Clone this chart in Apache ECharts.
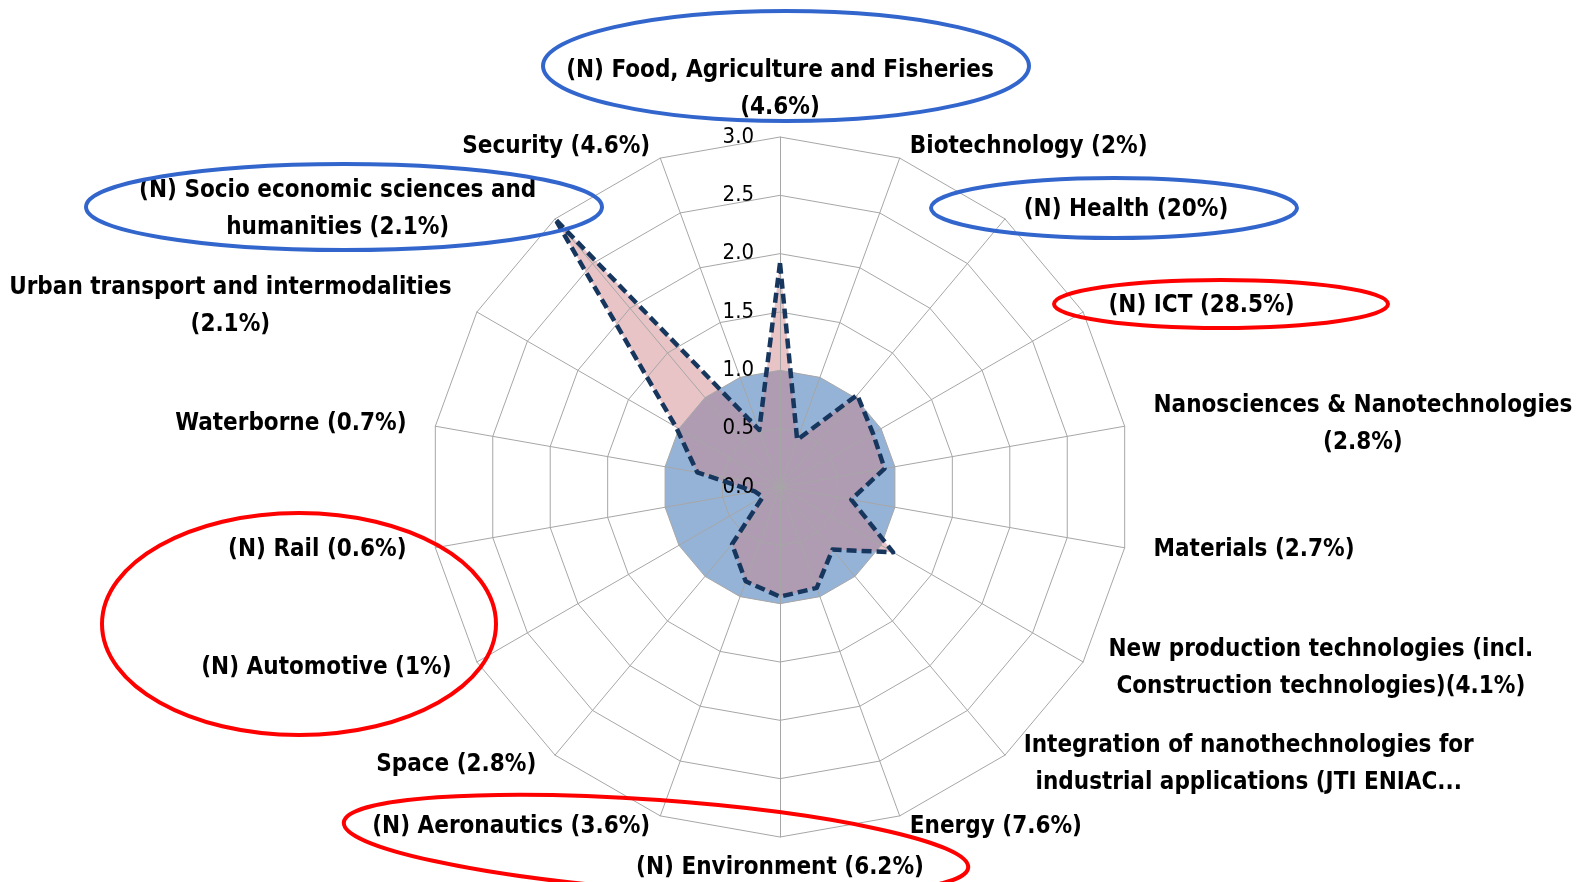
<!DOCTYPE html>
<html>
<head>
<meta charset="utf-8">
<title>Radar - thematic specialisation</title>
<script src="https://cdn.jsdelivr.net/npm/echarts@6/dist/echarts.min.js"></script>
<style>
  html, body { margin: 0; padding: 0; background: #fff; }
  #chart { width: 1584px; height: 882px; }
</style>
</head>
<body>
<div id="chart"></div>
<script>
// categories, clockwise from the top axis
const categories = [
  '(N) Food, Agriculture and Fisheries\n(4.6%)',
  'Biotechnology (2%)',
  '(N) Health (20%)',
  '(N) ICT (28.5%)',
  'Nanosciences & Nanotechnologies\n(2.8%)',
  'Materials (2.7%)',
  'New production technologies (incl.\nConstruction technologies)(4.1%)',
  'Integration of nanothechnologies for\nindustrial applications (JTI ENIAC...',
  'Energy (7.6%)',
  '(N) Environment (6.2%)',
  '(N) Aeronautics (3.6%)',
  'Space (2.8%)',
  '(N) Automotive (1%)',
  '(N) Rail (0.6%)',
  'Waterborne (0.7%)',
  'Urban transport and intermodalities\n(2.1%)',
  '(N) Socio economic sciences and\nhumanities (2.1%)',
  'Security (4.6%)'
]
const referenceValues = [1, 1, 1, 1, 1, 1, 1, 1, 1, 1, 1, 1, 1, 1, 1, 1, 1, 1]
const countryValues = [1.92, 0.43, 1.03, 0.92, 0.91, 0.62, 1.12, 0.70, 0.92,
  0.94, 0.86, 0.64, 0.17, 0.22, 0.72, 1.03, 3.0, 0.52]
const axisMin = 0
const axisMax = 3
const axisSplits = 6

const FONT = '"DejaVu Sans Condensed", "Liberation Sans Narrow", sans-serif'

// echarts lays indicators out counter-clockwise, so walk the lists backwards
const order = categories.map((_, i) => (categories.length - i) % categories.length)
const pick = (arr) => order.map((i) => arr[i])

const indicators = order.map((i, k) => {
  const ang = (i / categories.length) * Math.PI * 2
  const s = Math.sin(ang)
  // labels sit a bit further out sideways than up/down
  const side = Math.round(17 * Math.abs(s))
  const ind = {
    name: categories[i],
    min: axisMin,
    max: axisMax,
    nameGap: i === 0 ? 10 : 12,
    nameTextStyle: { padding: s > 0.01 ? [0, 0, 0, side] : s < -0.01 ? [0, side, 0, 0] : 0 }
  }
  if (k === 0) {
    // only the top axis carries the scale
    ind.axisLabel = {
      show: true,
      color: '#000',
      fontSize: 22,
      fontFamily: FONT,
      margin: 26,
      formatter: (v) => Number(v).toFixed(1)
    }
  }
  return ind
})

const chart = echarts.init(document.getElementById('chart'))

chart.setOption({
  animation: false,
  radar: {
    z: 4,
    center: [780, 487],
    radius: 350,
    startAngle: 90,
    shape: 'polygon',
    splitNumber: axisSplits,
    axisName: {
      color: '#000',
      fontSize: 24,
      fontWeight: 'bold',
      fontFamily: FONT,
      lineHeight: 37,
      formatter: (name) => name.split('\n').map((l) => '{c|' + l + '}').join('\n'),
      rich: {
        c: {
          align: 'center',
          color: '#000',
          fontSize: 24,
          fontWeight: 'bold',
          fontFamily: FONT,
          lineHeight: 37
        }
      }
    },
    axisLine: { lineStyle: { color: '#a6a6a6', width: 1 } },
    splitLine: { lineStyle: { color: '#a6a6a6', width: 1 } },
    splitArea: { show: false },
    axisTick: { show: false },
    axisLabel: { show: false },
    indicator: indicators
  },
  series: [
    {
      type: 'radar',
      symbol: 'none',
      z: 2,
      lineStyle: { width: 0, opacity: 0 },
      areaStyle: { color: 'rgba(79, 129, 189, 0.6)', opacity: 1 },
      data: [{ value: pick(referenceValues), name: 'EU' }]
    },
    {
      type: 'radar',
      symbol: 'none',
      z: 3,
      lineStyle: { width: 0, opacity: 0 },
      areaStyle: { color: 'rgba(206, 130, 135, 0.47)', opacity: 1 },
      data: [{ value: pick(countryValues), name: 'Country' }]
    },
    {
      // outline of the same series, kept above the grid lines
      type: 'radar',
      symbol: 'none',
      z: 6,
      lineStyle: { color: '#17365d', width: 4.5, type: [10, 5] },
      data: [{ value: pick(countryValues), name: 'Country' }]
    }
  ],
  graphic: [
    { type: 'ellipse', x: 786, y: 66, z: 100, shape: { cx: 0, cy: 0, rx: 243, ry: 55 },
      style: { fill: 'none', stroke: '#3366cc', lineWidth: 4 } },
    { type: 'ellipse', x: 344, y: 207, z: 100, shape: { cx: 0, cy: 0, rx: 258, ry: 43 },
      style: { fill: 'none', stroke: '#3366cc', lineWidth: 4 } },
    { type: 'ellipse', x: 1114, y: 208, z: 100, shape: { cx: 0, cy: 0, rx: 183, ry: 30 },
      style: { fill: 'none', stroke: '#3366cc', lineWidth: 4 } },
    { type: 'ellipse', x: 1221, y: 304, z: 100, shape: { cx: 0, cy: 0, rx: 167, ry: 24 },
      style: { fill: 'none', stroke: '#ff0000', lineWidth: 4 } },
    { type: 'ellipse', x: 299, y: 624, z: 100, shape: { cx: 0, cy: 0, rx: 197, ry: 111 },
      style: { fill: 'none', stroke: '#ff0000', lineWidth: 4 } },
    { type: 'ellipse', x: 656, y: 845, z: 100, rotation: -0.072, shape: { cx: 0, cy: 0, rx: 313, ry: 45 },
      style: { fill: 'none', stroke: '#ff0000', lineWidth: 4 } }
  ]
})
</script>
</body>
</html>
